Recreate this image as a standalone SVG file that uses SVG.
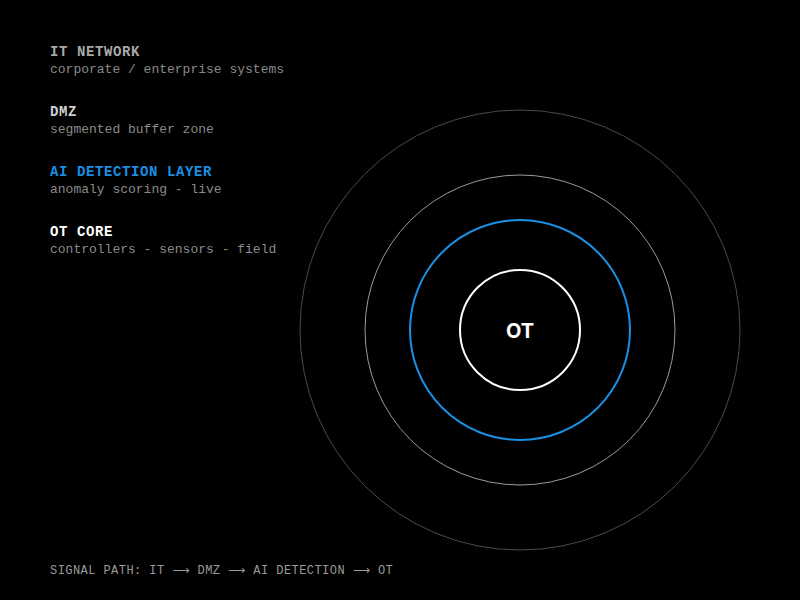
<svg xmlns="http://www.w3.org/2000/svg" width="800" height="600" viewBox="0 0 800 600">
<style>
.h{font-family:"Liberation Mono","DejaVu Sans Mono",monospace;font-weight:bold;font-size:14px;letter-spacing:0.6px}
.s{font-family:"Liberation Mono","DejaVu Sans Mono",monospace;font-size:13px;fill:#8a8a8a}
.f{font-family:"Liberation Mono","DejaVu Sans Mono",monospace;font-size:12px;fill:#9a9a9a;letter-spacing:1.2px}
.a{font-family:"DejaVu Sans",sans-serif}
.ring{fill:none}
</style>
<rect width="800" height="600" fill="#000"/>
<g id="legend-it"><text class="h" x="50" y="56" fill="#a8a8a8">IT NETWORK</text><text class="s" x="50" y="73">corporate / enterprise systems</text></g>
<g id="legend-dmz"><text class="h" x="50" y="116" fill="#d0d0d0">DMZ</text><text class="s" x="50" y="133">segmented buffer zone</text></g>
<g id="legend-ai"><text class="h" x="50" y="176" fill="#1a8fe3">AI DETECTION LAYER</text><text class="s" x="50" y="193">anomaly scoring - live</text></g>
<g id="legend-ot"><text class="h" x="50" y="236" fill="#ffffff">OT CORE</text><text class="s" x="50" y="253">controllers - sensors - field</text></g>
<g id="ring-it"><circle class="ring" cx="520" cy="330" r="220" stroke="#4a4a4a" stroke-width="1"/></g>
<g id="ring-dmz"><circle class="ring" cx="520" cy="330" r="155" stroke="#9a9a9a" stroke-width="1"/></g>
<g id="ring-ai"><circle class="ring" cx="520" cy="330" r="110" stroke="#1a8fe3" stroke-width="2"/></g>
<g id="ring-ot"><circle class="ring" cx="520" cy="330" r="60" stroke="#ffffff" stroke-width="2"/>
<text x="520" y="338" text-anchor="middle" font-family="Inter,'Open Sans',sans-serif" font-weight="bold" font-size="20" fill="#ffffff">OT</text></g>
<g id="connectors"></g>
<text class="f" x="50" y="574" textLength="344" lengthAdjust="spacing">SIGNAL PATH: IT <tspan class="a">⟶</tspan> DMZ <tspan class="a">⟶</tspan> AI DETECTION <tspan class="a">⟶</tspan> OT</text>
</svg>
